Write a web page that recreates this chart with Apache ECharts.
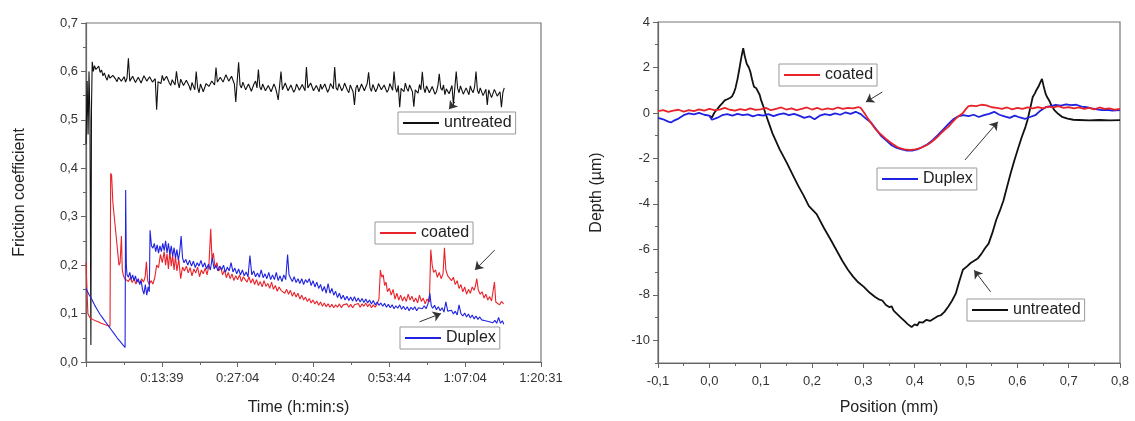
<!DOCTYPE html>
<html>
<head>
<meta charset="utf-8">
<title>Friction and wear track profiles</title>
<script src="https://cdn.jsdelivr.net/npm/echarts@6/dist/echarts.min.js"></script>
<style>
  html, body { margin: 0; padding: 0; background: #fff; }
  #chart { width: 1135px; height: 421px; }
</style>
</head>
<body>
<div id="chart"></div>
<script>
// ---- left panel: friction coefficient vs time (seconds) ----
const timeTickLabels = ['', '0:13:39', '0:27:04', '0:40:24', '0:53:44', '1:07:04', '1:20:31']
const timeStep = 805

const frictionUntreated = [
  [0, 0.45], [12, 0.58], [22, 0.47], [32, 0.6], [42, 0.5], [52, 0.035], [58, 0.52], [66, 0.62], [78, 0.6],
  [90, 0.612], [105, 0.604], [120, 0.606], [135, 0.611], [150, 0.598], [165, 0.603], [180, 0.591], [195, 0.597],
  [210, 0.588], [225, 0.582], [240, 0.594], [255, 0.586], [270, 0.583], [285, 0.592], [300, 0.59], [315, 0.584],
  [330, 0.579], [345, 0.588], [360, 0.587], [375, 0.58], [390, 0.583], [405, 0.589], [420, 0.578], [435, 0.586],
  [450, 0.627], [465, 0.58], [480, 0.582], [495, 0.59], [510, 0.586], [525, 0.577], [540, 0.579], [555, 0.588],
  [570, 0.584], [585, 0.576], [600, 0.58], [615, 0.591], [630, 0.59], [645, 0.58], [660, 0.577], [675, 0.589],
  [690, 0.586], [705, 0.578], [720, 0.574], [735, 0.585], [750, 0.521], [765, 0.579], [780, 0.583], [795, 0.575],
  [810, 0.592], [825, 0.581], [840, 0.578], [855, 0.59], [870, 0.588], [885, 0.576], [900, 0.571], [915, 0.583],
  [930, 0.584], [945, 0.572], [960, 0.6], [975, 0.578], [990, 0.566], [1005, 0.584], [1020, 0.58], [1035, 0.571],
  [1050, 0.569], [1065, 0.582], [1080, 0.585], [1095, 0.57], [1110, 0.561], [1125, 0.577], [1140, 0.574],
  [1155, 0.562], [1170, 0.6], [1185, 0.567], [1200, 0.556], [1215, 0.574], [1230, 0.57], [1245, 0.558],
  [1260, 0.562], [1275, 0.575], [1290, 0.578], [1305, 0.569], [1320, 0.566], [1335, 0.58], [1350, 0.584],
  [1365, 0.572], [1380, 0.608], [1395, 0.578], [1410, 0.574], [1425, 0.588], [1440, 0.59], [1455, 0.578],
  [1470, 0.581], [1485, 0.593], [1500, 0.594], [1515, 0.58], [1530, 0.576], [1545, 0.59], [1560, 0.588],
  [1575, 0.574], [1590, 0.537], [1605, 0.58], [1620, 0.619], [1635, 0.572], [1650, 0.566], [1665, 0.578],
  [1680, 0.574], [1695, 0.562], [1710, 0.558], [1725, 0.574], [1740, 0.571], [1755, 0.559], [1770, 0.563],
  [1785, 0.575], [1800, 0.58], [1815, 0.566], [1830, 0.604], [1845, 0.568], [1860, 0.562], [1875, 0.574],
  [1890, 0.57], [1905, 0.56], [1920, 0.556], [1935, 0.571], [1950, 0.573], [1965, 0.558], [1980, 0.561],
  [1995, 0.574], [2010, 0.567], [2025, 0.556], [2040, 0.541], [2055, 0.57], [2070, 0.6], [2085, 0.562],
  [2100, 0.565], [2115, 0.576], [2130, 0.572], [2145, 0.56], [2160, 0.558], [2175, 0.572], [2190, 0.569],
  [2205, 0.557], [2220, 0.562], [2235, 0.574], [2250, 0.575], [2265, 0.561], [2280, 0.56], [2295, 0.573],
  [2310, 0.571], [2325, 0.56], [2340, 0.609], [2355, 0.566], [2370, 0.563], [2385, 0.576], [2400, 0.572],
  [2415, 0.56], [2430, 0.557], [2445, 0.571], [2460, 0.568], [2475, 0.558], [2490, 0.574], [2505, 0.563],
  [2520, 0.559], [2535, 0.574], [2550, 0.57], [2565, 0.557], [2580, 0.563], [2595, 0.575], [2610, 0.577],
  [2625, 0.564], [2640, 0.609], [2655, 0.566], [2670, 0.561], [2685, 0.575], [2700, 0.572], [2715, 0.56],
  [2730, 0.566], [2745, 0.576], [2760, 0.574], [2775, 0.561], [2790, 0.556], [2805, 0.572], [2820, 0.569],
  [2835, 0.558], [2850, 0.531], [2865, 0.566], [2880, 0.572], [2895, 0.558], [2910, 0.561], [2925, 0.574],
  [2940, 0.575], [2955, 0.56], [2970, 0.563], [2985, 0.575], [3000, 0.598], [3015, 0.566], [3030, 0.559],
  [3045, 0.573], [3060, 0.571], [3075, 0.558], [3090, 0.564], [3105, 0.575], [3120, 0.576], [3135, 0.562],
  [3150, 0.558], [3165, 0.572], [3180, 0.57], [3195, 0.557], [3210, 0.562], [3225, 0.575], [3240, 0.574],
  [3255, 0.561], [3270, 0.6], [3285, 0.566], [3300, 0.557], [3315, 0.571], [3330, 0.526], [3345, 0.565],
  [3360, 0.569], [3375, 0.558], [3390, 0.576], [3405, 0.565], [3420, 0.559], [3435, 0.572], [3450, 0.571],
  [3465, 0.558], [3480, 0.527], [3495, 0.562], [3510, 0.566], [3525, 0.555], [3540, 0.573], [3555, 0.562],
  [3570, 0.599], [3585, 0.566], [3600, 0.556], [3615, 0.57], [3630, 0.568], [3645, 0.556], [3660, 0.553],
  [3675, 0.569], [3690, 0.566], [3705, 0.553], [3720, 0.558], [3735, 0.57], [3750, 0.595], [3765, 0.566],
  [3780, 0.561], [3795, 0.572], [3810, 0.552], [3825, 0.564], [3840, 0.567], [3855, 0.554], [3870, 0.558],
  [3885, 0.571], [3900, 0.531], [3915, 0.566], [3930, 0.6], [3945, 0.565], [3960, 0.556], [3975, 0.57],
  [3990, 0.566], [4005, 0.553], [4020, 0.551], [4035, 0.566], [4050, 0.563], [4065, 0.552], [4080, 0.57],
  [4095, 0.561], [4110, 0.556], [4125, 0.568], [4140, 0.6], [4155, 0.561], [4170, 0.554], [4185, 0.566],
  [4200, 0.562], [4215, 0.55], [4230, 0.548], [4245, 0.563], [4260, 0.531], [4275, 0.562], [4290, 0.558],
  [4305, 0.546], [4320, 0.55], [4335, 0.563], [4350, 0.561], [4365, 0.549], [4380, 0.545], [4395, 0.558],
  [4410, 0.526], [4425, 0.556], [4440, 0.566]
]

const frictionCoated = [
  [0, 0.205], [10, 0.15], [20, 0.1], [40, 0.092], [70, 0.088], [100, 0.085], [130, 0.083], [160, 0.08],
  [190, 0.078], [220, 0.076], [255, 0.074], [262, 0.39], [272, 0.385], [285, 0.33], [300, 0.3], [315, 0.27],
  [335, 0.23], [350, 0.2], [362, 0.205], [376, 0.26], [385, 0.19], [398, 0.178], [412, 0.172], [430, 0.176],
  [450, 0.166], [470, 0.174], [490, 0.164], [510, 0.172], [530, 0.161], [550, 0.17], [570, 0.162], [590, 0.172],
  [610, 0.165], [628, 0.176], [641, 0.207], [655, 0.168], [670, 0.16], [690, 0.168], [710, 0.161], [730, 0.174],
  [750, 0.2], [770, 0.195], [790, 0.222], [810, 0.205], [830, 0.228], [845, 0.2], [860, 0.224], [875, 0.192],
  [890, 0.23], [905, 0.198], [920, 0.22], [935, 0.19], [950, 0.218], [965, 0.188], [985, 0.212], [1005, 0.172],
  [1025, 0.196], [1045, 0.188], [1065, 0.198], [1085, 0.184], [1105, 0.195], [1125, 0.178], [1145, 0.192],
  [1165, 0.184], [1185, 0.196], [1205, 0.176], [1225, 0.19], [1245, 0.182], [1265, 0.194], [1285, 0.18],
  [1305, 0.2], [1324, 0.275], [1338, 0.21], [1352, 0.225], [1370, 0.195], [1390, 0.205], [1410, 0.188],
  [1430, 0.196], [1450, 0.18], [1470, 0.19], [1490, 0.174], [1510, 0.185], [1530, 0.172], [1550, 0.182],
  [1570, 0.168], [1590, 0.178], [1610, 0.17], [1630, 0.18], [1650, 0.166], [1670, 0.176], [1690, 0.17],
  [1710, 0.165], [1730, 0.176], [1750, 0.163], [1770, 0.172], [1790, 0.16], [1810, 0.17], [1830, 0.158],
  [1850, 0.166], [1870, 0.155], [1890, 0.168], [1910, 0.156], [1930, 0.162], [1950, 0.152], [1970, 0.165],
  [1990, 0.15], [2010, 0.158], [2030, 0.146], [2050, 0.155], [2070, 0.148], [2090, 0.152], [2110, 0.142],
  [2130, 0.15], [2150, 0.14], [2170, 0.148], [2190, 0.136], [2210, 0.144], [2230, 0.134], [2250, 0.142],
  [2270, 0.13], [2290, 0.138], [2310, 0.128], [2330, 0.134], [2350, 0.125], [2370, 0.131], [2390, 0.122],
  [2410, 0.128], [2430, 0.12], [2450, 0.126], [2470, 0.117], [2490, 0.124], [2510, 0.115], [2530, 0.122],
  [2550, 0.114], [2570, 0.12], [2590, 0.113], [2610, 0.119], [2630, 0.112], [2650, 0.118], [2670, 0.113],
  [2690, 0.12], [2710, 0.112], [2730, 0.118], [2750, 0.114], [2770, 0.12], [2790, 0.113], [2810, 0.119],
  [2830, 0.112], [2850, 0.118], [2870, 0.114], [2890, 0.121], [2910, 0.113], [2930, 0.12], [2950, 0.115],
  [2970, 0.122], [2990, 0.114], [3010, 0.12], [3030, 0.112], [3050, 0.118], [3070, 0.113], [3090, 0.12],
  [3110, 0.13], [3125, 0.19], [3140, 0.175], [3155, 0.18], [3170, 0.158], [3185, 0.165], [3200, 0.145],
  [3220, 0.152], [3240, 0.138], [3260, 0.15], [3280, 0.13], [3300, 0.142], [3320, 0.128], [3340, 0.138],
  [3360, 0.126], [3380, 0.135], [3400, 0.125], [3420, 0.14], [3440, 0.128], [3460, 0.136], [3480, 0.124],
  [3500, 0.132], [3520, 0.122], [3540, 0.138], [3560, 0.125], [3580, 0.132], [3600, 0.12], [3620, 0.13],
  [3645, 0.124], [3660, 0.232], [3675, 0.2], [3690, 0.185], [3710, 0.19], [3730, 0.175], [3750, 0.185],
  [3770, 0.172], [3790, 0.182], [3805, 0.236], [3820, 0.19], [3840, 0.178], [3860, 0.182], [3880, 0.168],
  [3900, 0.175], [3920, 0.16], [3940, 0.168], [3960, 0.152], [3980, 0.16], [4000, 0.145], [4020, 0.155],
  [4040, 0.14], [4060, 0.15], [4080, 0.142], [4100, 0.155], [4120, 0.148], [4135, 0.158], [4148, 0.172],
  [4165, 0.148], [4185, 0.14], [4205, 0.145], [4225, 0.132], [4245, 0.14], [4265, 0.128], [4285, 0.135],
  [4305, 0.126], [4320, 0.13], [4336, 0.165], [4350, 0.124], [4370, 0.126], [4390, 0.118], [4410, 0.125],
  [4433, 0.12]
]

const frictionDuplex = [
  [0, 0.152], [30, 0.14], [60, 0.13], [90, 0.118], [120, 0.108], [150, 0.098], [180, 0.09], [210, 0.082],
  [240, 0.074], [270, 0.066], [300, 0.058], [330, 0.05], [360, 0.043], [390, 0.036], [415, 0.03], [421, 0.355],
  [428, 0.2], [435, 0.18], [450, 0.175], [465, 0.185], [480, 0.17], [495, 0.18], [510, 0.168], [525, 0.178],
  [540, 0.165], [555, 0.172], [570, 0.16], [585, 0.168], [600, 0.15], [615, 0.14], [630, 0.16], [645, 0.138],
  [660, 0.155], [672, 0.145], [680, 0.272], [695, 0.24], [710, 0.235], [725, 0.245], [740, 0.228], [755, 0.242],
  [770, 0.225], [785, 0.24], [800, 0.228], [815, 0.245], [830, 0.23], [845, 0.25], [860, 0.225], [875, 0.245],
  [890, 0.222], [905, 0.24], [920, 0.218], [935, 0.236], [950, 0.215], [965, 0.232], [980, 0.21], [995, 0.228],
  [1010, 0.26], [1025, 0.215], [1040, 0.205], [1060, 0.212], [1080, 0.2], [1100, 0.21], [1120, 0.198],
  [1140, 0.208], [1160, 0.195], [1180, 0.205], [1200, 0.198], [1220, 0.21], [1240, 0.196], [1260, 0.205],
  [1280, 0.192], [1300, 0.202], [1320, 0.19], [1340, 0.215], [1360, 0.192], [1380, 0.2], [1400, 0.188],
  [1420, 0.198], [1440, 0.19], [1460, 0.2], [1480, 0.185], [1500, 0.196], [1520, 0.188], [1540, 0.205],
  [1560, 0.186], [1580, 0.194], [1600, 0.182], [1620, 0.192], [1640, 0.18], [1660, 0.19], [1680, 0.178],
  [1700, 0.186], [1720, 0.176], [1740, 0.22], [1760, 0.18], [1780, 0.188], [1800, 0.176], [1820, 0.184],
  [1840, 0.175], [1860, 0.19], [1880, 0.174], [1900, 0.182], [1920, 0.172], [1940, 0.185], [1960, 0.17],
  [1980, 0.18], [2000, 0.17], [2020, 0.185], [2040, 0.168], [2060, 0.178], [2080, 0.166], [2100, 0.18],
  [2120, 0.17], [2140, 0.222], [2155, 0.18], [2170, 0.174], [2190, 0.166], [2210, 0.176], [2230, 0.164],
  [2250, 0.172], [2270, 0.162], [2290, 0.172], [2310, 0.16], [2330, 0.17], [2350, 0.164], [2370, 0.172],
  [2390, 0.158], [2410, 0.168], [2430, 0.155], [2450, 0.165], [2470, 0.152], [2490, 0.16], [2510, 0.146],
  [2530, 0.156], [2550, 0.142], [2570, 0.162], [2590, 0.142], [2610, 0.152], [2630, 0.138], [2650, 0.146],
  [2670, 0.133], [2690, 0.142], [2710, 0.13], [2730, 0.138], [2750, 0.128], [2770, 0.136], [2790, 0.127],
  [2810, 0.134], [2830, 0.126], [2850, 0.135], [2870, 0.125], [2890, 0.132], [2910, 0.124], [2930, 0.131],
  [2950, 0.123], [2970, 0.13], [2990, 0.122], [3010, 0.128], [3030, 0.12], [3050, 0.127], [3070, 0.118],
  [3090, 0.124], [3110, 0.117], [3130, 0.122], [3150, 0.115], [3170, 0.121], [3190, 0.113], [3210, 0.119],
  [3230, 0.112], [3250, 0.118], [3270, 0.11], [3290, 0.116], [3310, 0.111], [3330, 0.118], [3350, 0.109],
  [3370, 0.115], [3390, 0.108], [3410, 0.114], [3430, 0.106], [3450, 0.113], [3470, 0.108], [3490, 0.114],
  [3510, 0.106], [3530, 0.112], [3550, 0.116], [3570, 0.11], [3590, 0.116], [3610, 0.11], [3630, 0.12],
  [3650, 0.142], [3665, 0.116], [3680, 0.111], [3700, 0.117], [3720, 0.108], [3740, 0.114], [3760, 0.106],
  [3780, 0.112], [3800, 0.103], [3820, 0.124], [3840, 0.105], [3860, 0.101], [3880, 0.107], [3900, 0.099],
  [3920, 0.105], [3940, 0.097], [3960, 0.118], [3980, 0.1], [4000, 0.095], [4020, 0.101], [4040, 0.093],
  [4060, 0.099], [4080, 0.091], [4100, 0.097], [4120, 0.089], [4140, 0.095], [4160, 0.088], [4180, 0.093],
  [4200, 0.087], [4220, 0.091], [4240, 0.085], [4260, 0.089], [4280, 0.083], [4300, 0.087], [4320, 0.081],
  [4340, 0.086], [4360, 0.08], [4380, 0.092], [4400, 0.08], [4420, 0.085], [4435, 0.078]
]

// arrows [from, to] in data units
const frictionArrows = {
  untreated: [[3917, 0.537], [3853, 0.522]],
  coated: [[4338, 0.231], [4129, 0.19]],
  Duplex: [[3541, 0.083], [3768, 0.1]]
}

// ---- right panel: depth profile vs position (mm) ----
const depthUntreated = [
  [0.0, -0.12], [0.005, -0.2], [0.01, 0.02], [0.015, 0.15], [0.02, 0.3], [0.025, 0.42], [0.03, 0.55],
  [0.035, 0.6], [0.04, 0.66], [0.044, 0.72], [0.048, 0.9], [0.051, 1.1], [0.055, 1.5], [0.059, 2.0],
  [0.062, 2.4], [0.066, 2.85], [0.069, 2.5], [0.073, 2.15], [0.077, 2.0], [0.08, 1.8], [0.084, 1.4],
  [0.087, 1.15], [0.091, 1.1], [0.094, 1.05], [0.098, 0.8], [0.101, 0.55], [0.105, 0.3], [0.109, 0.0],
  [0.116, -0.45], [0.123, -0.9], [0.13, -1.25], [0.137, -1.6], [0.144, -1.9], [0.151, -2.2], [0.162, -2.7],
  [0.173, -3.2], [0.184, -3.65], [0.194, -4.1], [0.209, -4.45], [0.223, -5.05], [0.237, -5.6], [0.248, -6.05],
  [0.259, -6.5], [0.27, -6.9], [0.28, -7.2], [0.29, -7.45], [0.301, -7.65], [0.312, -7.9], [0.323, -8.1],
  [0.33, -8.2], [0.337, -8.25], [0.344, -8.45], [0.351, -8.55], [0.355, -8.5], [0.359, -8.7], [0.366, -8.85],
  [0.373, -9.0], [0.38, -9.15], [0.387, -9.3], [0.394, -9.42], [0.4, -9.3], [0.405, -9.35], [0.409, -9.2],
  [0.416, -9.22], [0.423, -9.1], [0.43, -9.15], [0.437, -9.05], [0.444, -8.95], [0.451, -8.9], [0.458, -8.75],
  [0.466, -8.5], [0.473, -8.25], [0.48, -7.95], [0.487, -7.4], [0.494, -6.9], [0.502, -6.75], [0.509, -6.6],
  [0.516, -6.5], [0.523, -6.4], [0.53, -6.2], [0.537, -5.95], [0.544, -5.75], [0.551, -5.3], [0.559, -4.7],
  [0.566, -4.3], [0.573, -3.85], [0.58, -3.25], [0.587, -2.65], [0.594, -2.1], [0.601, -1.6], [0.608, -1.1],
  [0.616, -0.6], [0.62, -0.3], [0.623, 0.0], [0.627, 0.4], [0.63, 0.7], [0.634, 0.85], [0.637, 1.0],
  [0.641, 1.15], [0.644, 1.3], [0.648, 1.5], [0.651, 1.2], [0.655, 0.85], [0.658, 0.7], [0.662, 0.55],
  [0.667, 0.3], [0.673, 0.1], [0.68, -0.05], [0.687, -0.17], [0.698, -0.25], [0.709, -0.3], [0.72, -0.31],
  [0.74, -0.33], [0.76, -0.31], [0.78, -0.33], [0.8, -0.32]
]

const depthDuplex = [
  [-0.1, -0.22], [-0.09, -0.28], [-0.08, -0.38], [-0.075, -0.42], [-0.07, -0.35], [-0.06, -0.25],
  [-0.05, -0.1], [-0.04, -0.02], [-0.03, -0.06], [-0.02, 0.0], [-0.01, -0.08], [0.0, -0.12], [0.005, -0.3],
  [0.015, -0.22], [0.025, -0.1], [0.035, -0.05], [0.045, -0.12], [0.055, -0.04], [0.065, -0.1], [0.075, -0.06],
  [0.085, -0.15], [0.095, -0.08], [0.105, -0.12], [0.115, -0.05], [0.125, -0.14], [0.135, -0.06],
  [0.145, -0.02], [0.155, -0.1], [0.165, -0.04], [0.175, -0.12], [0.185, -0.22], [0.195, -0.15],
  [0.205, -0.28], [0.215, -0.12], [0.225, -0.05], [0.235, -0.1], [0.245, -0.02], [0.255, -0.08],
  [0.265, 0.02], [0.275, -0.04], [0.285, 0.05], [0.295, -0.05], [0.305, -0.25], [0.315, -0.42],
  [0.325, -0.72], [0.335, -1.02], [0.345, -1.22], [0.355, -1.42], [0.365, -1.54], [0.375, -1.6],
  [0.385, -1.66], [0.395, -1.66], [0.405, -1.6], [0.415, -1.5], [0.425, -1.38], [0.435, -1.2],
  [0.445, -0.98], [0.455, -0.74], [0.465, -0.5], [0.475, -0.28], [0.485, -0.15], [0.495, -0.1],
  [0.505, -0.14], [0.515, -0.08], [0.525, -0.18], [0.535, -0.1], [0.545, -0.04], [0.555, 0.05],
  [0.565, -0.08], [0.575, -0.15], [0.585, -0.22], [0.595, -0.12], [0.605, -0.2], [0.615, -0.26],
  [0.625, -0.18], [0.635, -0.1], [0.645, 0.1], [0.655, 0.25], [0.665, 0.3], [0.675, 0.35], [0.685, 0.32],
  [0.695, 0.38], [0.705, 0.34], [0.715, 0.36], [0.725, 0.28], [0.735, 0.25], [0.745, 0.2], [0.755, 0.16],
  [0.765, 0.12], [0.775, 0.14], [0.785, 0.1], [0.8, 0.12]
]

const depthCoated = [
  [-0.1, 0.08], [-0.09, 0.12], [-0.08, 0.05], [-0.07, 0.1], [-0.06, 0.14], [-0.05, 0.06], [-0.04, 0.12],
  [-0.03, 0.08], [-0.02, 0.16], [-0.01, 0.1], [0.0, 0.18], [0.01, 0.12], [0.02, 0.15], [0.03, 0.22],
  [0.04, 0.14], [0.05, 0.1], [0.06, 0.17], [0.07, 0.12], [0.08, 0.2], [0.09, 0.13], [0.1, 0.16], [0.11, 0.22],
  [0.12, 0.12], [0.13, 0.18], [0.14, 0.24], [0.15, 0.15], [0.16, 0.2], [0.17, 0.12], [0.18, 0.18],
  [0.19, 0.24], [0.2, 0.15], [0.21, 0.22], [0.22, 0.14], [0.23, 0.2], [0.24, 0.16], [0.25, 0.24],
  [0.26, 0.18], [0.27, 0.22], [0.28, 0.2], [0.29, 0.26], [0.295, 0.22], [0.302, 0.0], [0.309, -0.25],
  [0.316, -0.48], [0.323, -0.7], [0.33, -0.86], [0.337, -1.0], [0.344, -1.14], [0.351, -1.27], [0.358, -1.38],
  [0.366, -1.5], [0.373, -1.56], [0.38, -1.6], [0.387, -1.62], [0.394, -1.63], [0.401, -1.6], [0.409, -1.56],
  [0.416, -1.5], [0.423, -1.42], [0.43, -1.32], [0.437, -1.2], [0.444, -1.06], [0.451, -0.9], [0.458, -0.75],
  [0.466, -0.6], [0.473, -0.42], [0.48, -0.25], [0.487, -0.12], [0.494, 0.0], [0.5, 0.18], [0.505, 0.3],
  [0.51, 0.32], [0.52, 0.3], [0.53, 0.36], [0.54, 0.33], [0.55, 0.25], [0.56, 0.22], [0.57, 0.18], [0.58, 0.24],
  [0.59, 0.16], [0.6, 0.22], [0.61, 0.18], [0.62, 0.24], [0.63, 0.2], [0.64, 0.26], [0.65, 0.2], [0.66, 0.28],
  [0.67, 0.24], [0.68, 0.3], [0.69, 0.22], [0.7, 0.26], [0.71, 0.2], [0.72, 0.24], [0.73, 0.18], [0.74, 0.22],
  [0.75, 0.16], [0.76, 0.24], [0.77, 0.18], [0.78, 0.2], [0.79, 0.14], [0.8, 0.18]
]

const depthArrows = {
  coated: [[0.337, 0.92], [0.305, 0.48]],
  Duplex: [[0.498, -2.07], [0.562, -0.39]],
  untreated: [[0.548, -7.87], [0.516, -6.92]]
}

const depthMajorTicks = [-10, -8, -6, -4, -2, 0, 2, 4]

const colors = { untreated: '#111111', coated: '#e8232a', Duplex: '#1f22e0' }
const font = 'Liberation Sans, Arial, sans-serif'

function comma(v) {
  return (Math.round(v * 10) / 10).toFixed(1).replace('.', ',')
}

function arrow(pair) {
  return {
    silent: true,
    animation: false,
    symbol: ['none', 'arrow'],
    symbolSize: 8,
    label: { show: false },
    lineStyle: { color: '#333', width: 1, type: 'solid' },
    itemStyle: { color: '#222' },
    emphasis: { disabled: true },
    data: [[{ coord: pair[0] }, { coord: pair[1] }]]
  }
}

function lineSeries(name, data, gridIdx, width, arrowPair) {
  return {
    name: name,
    type: 'line',
    xAxisIndex: gridIdx,
    yAxisIndex: gridIdx,
    data: data,
    symbol: 'none',
    animation: false,
    lineStyle: { color: colors[name], width: width },
    itemStyle: { color: colors[name] },
    emphasis: { disabled: true },
    markLine: arrow(arrowPair)
  }
}

function boxLegend(name, left, top) {
  return {
    data: [name],
    left: left,
    top: top,
    icon: 'rect',
    itemWidth: 36,
    itemHeight: 2,
    padding: [3, 4, 3, 5],
    borderColor: '#999',
    borderWidth: 1,
    borderRadius: 0,
    backgroundColor: '#fff',
    selectedMode: false,
    textStyle: { fontFamily: font, fontSize: 16, color: '#222' }
  }
}

const axisCommon = {
  axisLine: { onZero: false, lineStyle: { color: '#666', width: 1.2 } },
  axisTick: { inside: false, length: 5, lineStyle: { color: '#666' } },
  minorTick: { show: true, splitNumber: 2, length: 3, lineStyle: { color: '#666' } },
  splitLine: { show: false },
  axisLabel: { fontFamily: font, fontSize: 13, color: '#333' },
  nameTextStyle: { fontFamily: font, fontSize: 16, color: '#222' },
  nameLocation: 'middle'
}

const chart = echarts.init(document.getElementById('chart'))
chart.setOption({
  animation: false,
  grid: [
    { left: 86, top: 23, width: 455, height: 339, show: true, borderColor: '#777', borderWidth: 1.2, containLabel: false },
    { left: 658, top: 22, width: 462, height: 341, show: true, borderColor: '#777', borderWidth: 1.2, containLabel: false }
  ],
  legend: [
    boxLegend('untreated', 398, 112),
    boxLegend('coated', 375, 222),
    boxLegend('Duplex', 400, 327),
    boxLegend('coated', 779, 64),
    boxLegend('Duplex', 877, 168),
    boxLegend('untreated', 967, 299)
  ],
  xAxis: [
    Object.assign({}, axisCommon, {
      type: 'value', gridIndex: 0, min: 0, max: timeStep * 6, interval: timeStep,
      name: 'Time (h:min:s)', nameGap: 38,
      nameTextStyle: Object.assign({}, axisCommon.nameTextStyle, { padding: [0, 30, 0, 0] }),
      axisLabel: Object.assign({}, axisCommon.axisLabel, {
        margin: 10,
        formatter: v => timeTickLabels[Math.round(v / timeStep)] || ''
      })
    }),
    Object.assign({}, axisCommon, {
      type: 'value', gridIndex: 1, min: -0.1, max: 0.8, interval: 0.1,
      name: 'Position (mm)', nameGap: 37,
      axisLabel: Object.assign({}, axisCommon.axisLabel, { margin: 12, formatter: comma })
    })
  ],
  yAxis: [
    Object.assign({}, axisCommon, {
      type: 'value', gridIndex: 0, min: 0, max: 0.7, interval: 0.1,
      name: 'Friction coefficient', nameGap: 58,
      axisLabel: Object.assign({}, axisCommon.axisLabel, { margin: 8, formatter: comma })
    }),
    Object.assign({}, axisCommon, {
      type: 'value', gridIndex: 1, min: -11, max: 4, interval: 1,
      name: 'Depth (\u00b5m)', nameGap: 53,
      minorTick: { show: false },
      axisTick: Object.assign({}, axisCommon.axisTick, { customValues: depthMajorTicks }),
      axisLabel: Object.assign({}, axisCommon.axisLabel, { margin: 8, customValues: depthMajorTicks })
    }),
    {
      // short ticks at every integer depth
      type: 'value', gridIndex: 1, min: -11, max: 4, interval: 1, position: 'left',
      axisLine: { show: false, onZero: false },
      axisLabel: { show: false },
      splitLine: { show: false },
      axisTick: { show: true, length: 3, lineStyle: { color: '#666' } }
    }
  ],
  series: [
    lineSeries('untreated', frictionUntreated, 0, 1.1, frictionArrows.untreated),
    lineSeries('coated', frictionCoated, 0, 1.1, frictionArrows.coated),
    lineSeries('Duplex', frictionDuplex, 0, 1.1, frictionArrows.Duplex),
    lineSeries('untreated', depthUntreated, 1, 1.8, depthArrows.untreated),
    lineSeries('Duplex', depthDuplex, 1, 1.8, depthArrows.Duplex),
    lineSeries('coated', depthCoated, 1, 1.8, depthArrows.coated)
  ]
})
</script>
</body>
</html>
